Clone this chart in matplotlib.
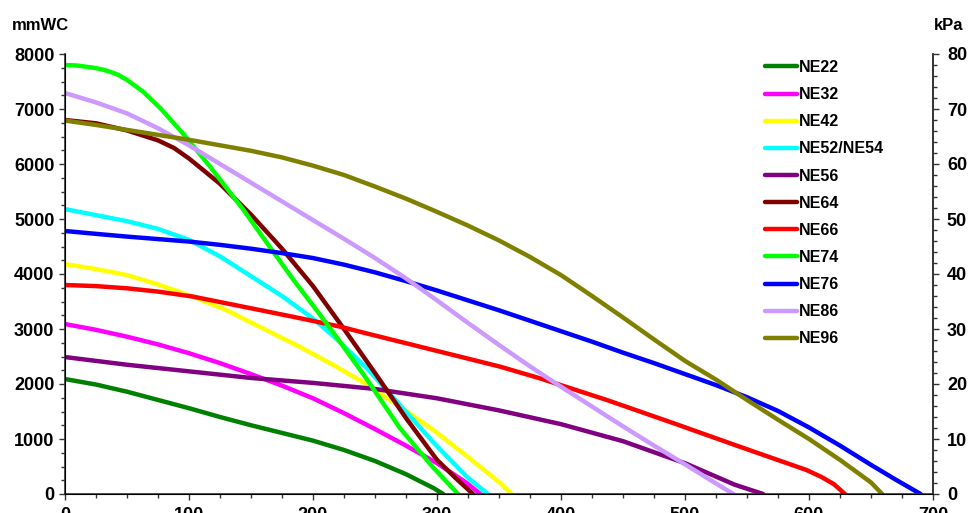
import matplotlib
matplotlib.use("Agg")
import matplotlib.pyplot as plt
from matplotlib.ticker import MultipleLocator

plt.rcParams['font.family'] = ['Liberation Sans', 'DejaVu Sans']
plt.rcParams['font.weight'] = 'bold'

names = ["NE22", "NE32", "NE42", "NE52/NE54", "NE56", "NE64", "NE66",
         "NE74", "NE76", "NE86", "NE96"]
colors = ["#008000", "#FF00FF", "#FFFF00", "#00FFFF", "#800080", "#800000",
          "#FF0000", "#00FF00", "#0000FF", "#CC99FF", "#808000"]

ne22_x = [0, 25, 50, 75, 100, 125, 150, 175, 200, 225, 250, 275, 297, 305]
ne22_y = [2090, 1990, 1860, 1710, 1560, 1400, 1250, 1110, 970, 800, 600, 360, 110, 0]

ne32_x = [0, 25, 50, 75, 100, 125, 150, 175, 200, 225, 250, 275, 300, 324, 335]
ne32_y = [3090, 2985, 2860, 2720, 2560, 2380, 2180, 1970, 1740, 1470, 1180, 880,
          560, 200, 0]

ne42_x = [0, 25, 50, 75, 103, 130, 157, 189, 216, 243, 270, 297, 324, 351, 360]
ne42_y = [4180, 4090, 3980, 3810, 3588, 3345, 3040, 2680, 2350, 2000, 1588, 1164,
          690, 200, 0]

ne52_x = [0, 25, 50, 75, 100, 125, 150, 175, 200, 216, 243, 270, 297, 324, 341]
ne52_y = [5180, 5070, 4960, 4820, 4620, 4320, 3960, 3600, 3190, 2880, 2300, 1620,
          940, 315, 0]

ne56_x = [0, 50, 100, 150, 200, 250, 300, 350, 400, 450, 500, 540, 563]
ne56_y = [2490, 2350, 2230, 2110, 2020, 1910, 1740, 1520, 1270, 960, 560, 170, 0]

ne64_x = [0, 25, 50, 75, 88, 100, 112, 125, 150, 175, 200, 225, 250, 275, 300, 315, 329]
ne64_y = [6800, 6740, 6610, 6430, 6290, 6100, 5880, 5640, 5080, 4460, 3780, 3000,
          2200, 1380, 620, 290, 0]

ne66_x = [0, 25, 50, 75, 103, 157, 190, 222, 243, 297, 351, 383, 437, 491, 544, 598,
          610, 620, 629]
ne66_y = [3800, 3780, 3740, 3680, 3590, 3345, 3194, 3042, 2921, 2618, 2315, 2103,
          1709, 1285, 861, 436, 310, 180, 0]

ne74_x = [0, 10, 23, 30, 36, 43, 50, 56, 63, 77, 95, 117, 144, 163, 184, 206, 222,
          243, 270, 297, 317]
ne74_y = [7800, 7790, 7750, 7720, 7680, 7620, 7530, 7430, 7315, 7012, 6558, 5952,
          5164, 4560, 3900, 3250, 2760, 2100, 1200, 480, 0]

ne76_x = [0, 25, 50, 75, 100, 125, 150, 175, 200, 225, 250, 275, 300, 325, 350, 375,
          400, 425, 450, 475, 500, 525, 550, 575, 600, 625, 650, 670, 690]
ne76_y = [4782, 4730, 4680, 4635, 4590, 4530, 4460, 4380, 4290, 4170, 4030, 3870,
          3700, 3520, 3340, 3150, 2960, 2770, 2570, 2380, 2180, 1980, 1760, 1510,
          1210, 880, 530, 260, 0]

ne86_x = [0, 25, 50, 75, 100, 125, 150, 175, 200, 225, 250, 275, 300, 325, 350, 375,
          400, 425, 450, 475, 500, 520, 539]
ne86_y = [7290, 7120, 6920, 6650, 6340, 6000, 5660, 5320, 4980, 4640, 4290, 3920,
          3520, 3110, 2710, 2320, 1950, 1590, 1230, 880, 540, 260, 0]

ne96_x = [0, 25, 50, 75, 100, 125, 150, 175, 200, 225, 250, 275, 300, 325, 350, 375,
          400, 425, 450, 475, 500, 525, 550, 575, 600, 625, 650, 659]
ne96_y = [6790, 6710, 6620, 6530, 6440, 6340, 6240, 6120, 5970, 5800, 5590, 5370,
          5130, 4880, 4610, 4310, 3980, 3600, 3210, 2810, 2420, 2080, 1710, 1350,
          1000, 620, 210, 0]

series_x = [ne22_x, ne32_x, ne42_x, ne52_x, ne56_x, ne64_x, ne66_x, ne74_x,
            ne76_x, ne86_x, ne96_x]
series_y = [ne22_y, ne32_y, ne42_y, ne52_y, ne56_y, ne64_y, ne66_y, ne74_y,
            ne76_y, ne86_y, ne96_y]

fig = plt.figure(figsize=(9.7, 5.13), dpi=100)
ax = fig.add_axes([65 / 970, 19 / 513, 868 / 970, 440 / 513])

lines = []
for xs, ys, c, n in zip(series_x, series_y, colors, names):
    ln, = ax.plot(xs, ys, color=c, lw=3.2, label=n, solid_capstyle='round',
                  solid_joinstyle='round')
    lines.append(ln)

ax.set_xlim(0, 700)
ax.set_ylim(0, 8000)
ax.xaxis.set_major_locator(MultipleLocator(100))
ax.xaxis.set_minor_locator(MultipleLocator(25))
ax.yaxis.set_major_locator(MultipleLocator(1000))
ax.yaxis.set_minor_locator(MultipleLocator(250))

spcol = '#333333'
for s in ['left', 'bottom', 'right']:
    ax.spines[s].set_color(spcol)
    ax.spines[s].set_linewidth(1.2)
ax.spines['top'].set_visible(False)

ax.tick_params(axis='both', which='both', direction='out', color=spcol, width=1.0)
ax.tick_params(axis='both', which='major', length=4, labelsize=13)
ax.tick_params(axis='both', which='minor', length=3)
ax.tick_params(axis='y', pad=3.6)
ax.tick_params(axis='x', pad=5.5)

ax2 = ax.twinx()
ax2.set_ylim(0, 80)
ax2.yaxis.set_major_locator(MultipleLocator(10))
ax2.yaxis.set_minor_locator(MultipleLocator(2))
ax2.spines['top'].set_visible(False)
ax2.spines['right'].set_color(spcol)
ax2.spines['right'].set_linewidth(1.2)
ax2.tick_params(axis='y', which='both', direction='out', color=spcol, width=1.0)
ax2.tick_params(axis='y', which='major', length=4, labelsize=13, pad=6)
ax2.tick_params(axis='y', which='minor', length=3)

for lab in ax.get_xticklabels() + ax.get_yticklabels() + ax2.get_yticklabels():
    lab.set_fontweight('bold')

fig.text(12 / 970, 1 - 25 / 513, "mmWC", fontsize=12, fontweight='bold',
         ha='left', va='center')
fig.text(934 / 970, 1 - 25 / 513, "kPa", fontsize=12, fontweight='bold',
         ha='left', va='center')

leg = ax.legend(handles=lines, loc='upper left',
                bbox_to_anchor=(765 / 970, 1 - 60 / 513),
                bbox_transform=fig.transFigure, frameon=False,
                prop={'size': 11.5, 'weight': 'bold'},
                handlelength=2.0, handletextpad=0.12, labelspacing=0.76,
                borderaxespad=0, borderpad=0)
for lh in leg.get_lines():
    lh.set_linewidth(3.2)

fig.savefig("out.png", dpi=100)
